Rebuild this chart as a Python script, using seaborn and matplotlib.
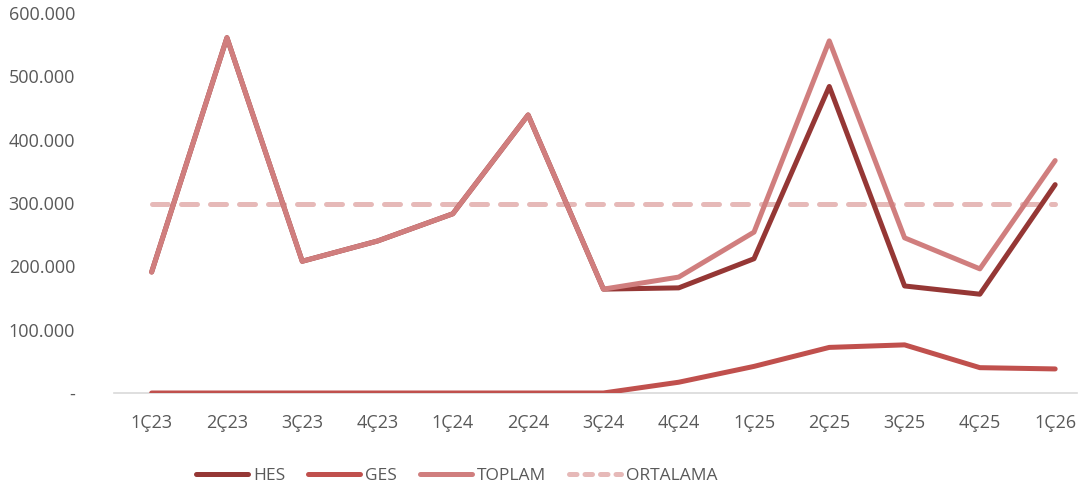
import matplotlib
matplotlib.use("Agg")
import matplotlib.pyplot as plt
import seaborn as sns
import pandas as pd
from matplotlib.ticker import FuncFormatter
from matplotlib.lines import Line2D

categories = ["1Ç23", "2Ç23", "3Ç23", "4Ç23", "1Ç24", "2Ç24", "3Ç24",
              "4Ç24", "1Ç25", "2Ç25", "3Ç25", "4Ç25", "1Ç26"]
hes = [191000, 561000, 208000, 240000, 283000, 439000, 164000,
       166000, 212000, 484000, 169000, 156000, 329000]
ges = [0, 0, 0, 0, 0, 0, 0, 17000, 42000, 72000, 76000, 40000, 38000]
toplam = [191000, 561000, 208000, 240000, 283000, 439000, 164000,
          183000, 254000, 556000, 245000, 196000, 367000]
ortalama = [298500] * 13
series_names = ["HES", "GES", "TOPLAM", "ORTALAMA"]
colors = ["#953735", "#C0504D", "#D07E7E", "#E6B9B8"]

rows = []
for name, vals in zip(series_names, [hes, ges, toplam, ortalama]):
    for i, (c, v) in enumerate(zip(categories, vals)):
        rows.append({"idx": i, "cat": c, "value": v, "series": name})
df = pd.DataFrame(rows)

sns.set_theme(style="white")
plt.rcParams['font.family'] = ['Open Sans', 'DejaVu Sans']

fig = plt.figure(figsize=(10.87, 4.94), dpi=100)
ax = fig.add_axes([114 / 1087, 1 - 393 / 494, (1077 - 114) / 1087, (393 - 13) / 494])

palette = dict(zip(series_names, colors))
sns.lineplot(data=df, x="idx", y="value", hue="series", palette=palette,
             hue_order=series_names, ax=ax, linewidth=3.6, legend=False,
             sort=False)
for line, name in zip(ax.get_lines(), series_names):
    line.set_solid_capstyle("round")
    line.set_solid_joinstyle("round")
    if name == "ORTALAMA":
        line.set_linestyle((0, (3.2, 2.6)))
        line.set_dash_capstyle("round")
    line.set_zorder({"HES": 3, "GES": 3, "TOPLAM": 4, "ORTALAMA": 2}[name])

ax.set_xlim(-0.5, 12.29)
ax.set_ylim(0, 600000)
ax.set_yticks(range(0, 600001, 100000))
ax.yaxis.set_major_formatter(FuncFormatter(
    lambda v, p: "-" if v == 0 else f"{int(v):,}".replace(",", ".")))
ax.set_xticks(range(len(categories)))
ax.set_xticklabels(categories)
ax.tick_params(axis="both", length=0, labelsize=13, labelcolor="#595959")
ax.tick_params(axis="y", pad=28)
ax.tick_params(axis="x", pad=15)
ax.set_xlabel("")
ax.set_ylabel("")
for s in ["top", "right", "left"]:
    ax.spines[s].set_visible(False)
ax.spines["bottom"].set_color("#D9D9D9")
ax.spines["bottom"].set_linewidth(1.2)
ax.grid(False)

handles = []
for name, col in zip(series_names, colors):
    ls = (0, (1.5, 1.6)) if name == "ORTALAMA" else "-"
    h = Line2D([0], [0], color=col, lw=3.6, linestyle=ls,
               solid_capstyle="round", dash_capstyle="round")
    handles.append(h)
fig.legend(handles, series_names, loc="center", bbox_to_anchor=(0.42, 1 - 476 / 494),
           ncol=4, frameon=False, fontsize=12.5, handlelength=3.0,
           columnspacing=1.3, handletextpad=0.3, labelcolor="#595959")

fig.savefig("out.png", dpi=100)
